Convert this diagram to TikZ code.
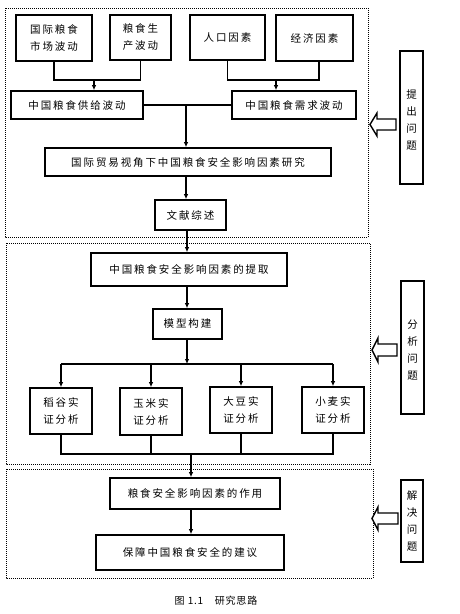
\documentclass[tikz,border=0pt]{standalone}
\usepackage{fontspec}
\newfontfamily\cjk[LetterSpace=18]{Noto Sans CJK SC}
\newfontfamily\cjkcap[LetterSpace=8]{Noto Sans CJK SC}
\usetikzlibrary{arrows.meta,calc}
\begin{document}
\begin{tikzpicture}[x=1pt,y=-1pt,
  box/.style={draw, line width=1.7pt, inner sep=0pt, align=center,
    font=\cjk\fontsize{10.5pt}{17pt}\selectfont},
  sidebox/.style={box, text depth=0pt},
  conn/.style={line width=1.1pt},
  arr/.style={conn, -{Latex[length=5pt,width=4.5pt]}},
  frame/.style={densely dotted, line width=1pt},
  hollow/.style={draw, line width=1.4pt, line join=miter, fill=white},
]
\useasboundingbox (0,0) rectangle (459,614);

% dotted frames
\draw[frame] (5,8) rectangle (368,237);
\draw[frame] (6,243) rectangle (370,464);
\draw[frame] (6,469) rectangle (373,578);

% stage 1
\node[box, minimum width=76pt, minimum height=46pt] (b1) at (54,38) {国际粮食\\市场波动};
\node[box, minimum width=61pt, minimum height=45pt] (b2) at (140.5,37.5) {粮食生\\产波动};
\node[box, minimum width=75pt, minimum height=45pt] (b3) at (227.5,37.5) {人口因素};
\node[box, minimum width=77pt, minimum height=46pt] (b4) at (314.5,38) {经济因素};
\node[box, minimum width=132pt, minimum height=28pt] (supply) at (77,105) {中国粮食供给波动};
\node[box, minimum width=124pt, minimum height=28pt] (demand) at (294,105) {中国粮食需求波动};
\node[box, minimum width=286pt, minimum height=28pt] (research) at (188,162) {国际贸易视角下中国粮食安全影响因素研究};
\node[box, minimum width=71pt, minimum height=30pt] (lit) at (190.5,215) {文献综述};

% stage 2
\node[box, minimum width=196pt, minimum height=33pt] (extract) at (189,269.5) {中国粮食安全影响因素的提取};
\node[box, minimum width=69pt, minimum height=30pt] (model) at (187.5,324) {模型构建};
\node[box, minimum width=62pt, minimum height=46pt] (rice) at (61,411) {稻谷实\\证分析};
\node[box, minimum width=62pt, minimum height=47pt] (corn) at (151,411.5) {玉米实\\证分析};
\node[box, minimum width=62pt, minimum height=46pt] (soy) at (241,410) {大豆实\\证分析};
\node[box, minimum width=62pt, minimum height=46pt] (wheat) at (333,410) {小麦实\\证分析};

% stage 3
\node[box, minimum width=170pt, minimum height=31pt] (role) at (195,493.5) {粮食安全影响因素的作用};
\node[box, minimum width=188pt, minimum height=35pt] (suggest) at (190,552.5) {保障中国粮食安全的建议};

% side boxes
\node[box, minimum width=23pt, minimum height=133pt] (side1) at (411.5,117.5) {\\[-4pt]提\\出\\问\\题};
\node[box, minimum width=23pt, minimum height=133pt] (side2) at (412.5,347.5) {\\[-4pt]分\\析\\问\\题};
\node[box, minimum width=22pt, minimum height=82pt] (side3) at (412,521) {解\\决\\问\\题};

% junctions
\coordinate (j1) at (94,80);
\coordinate (j2) at (276,80);
\coordinate (j3) at (186,105);
\coordinate (bus) at (187,364);
\coordinate (bus2) at (191,454);

% connectors stage 1
\draw[conn] (b1.south) |- (j1) -| (b2.south);
\draw[arr] (j1) -- (j1 |- supply.north);
\draw[conn] (b3.south) |- (j2) -| ($(b4.south)+(4.5,0)$);
\draw[arr] (j2) -- (j2 |- demand.north);
\draw[conn] (supply.east) -- (demand.west);
\draw[arr] (j3) -- (j3 |- research.north);
\draw[arr] (research.south -| j3) -- (j3 |- lit.north);
\draw[arr] (lit.south -| bus) -- (bus |- extract.north);

% connectors stage 2
\draw[arr] (extract.south -| bus) -- (bus |- model.north);
\draw[arr] (model.south -| bus) -- (bus);
\draw[conn] (rice.north |- bus) -- (wheat.north |- bus);
\draw[arr] (rice.north |- bus) -- (rice.north);
\draw[arr] (corn.north |- bus) -- (corn.north);
\draw[arr] (soy.north |- bus) -- (soy.north);
\draw[arr] (wheat.north |- bus) -- (wheat.north);
\draw[conn] (rice.south) |- (wheat.south |- bus2) -- (wheat.south);
\draw[conn] (corn.south) -- (corn.south |- bus2);
\draw[conn] (soy.south) -- (soy.south |- bus2);

% connectors stage 3
\draw[arr] (bus2) -- (bus2 |- role.north);
\draw[arr] (role.south -| bus2) -- (bus2 |- suggest.north);

% hollow arrows from side boxes to frames
\coordinate (t1) at (370,124.5);
\coordinate (t2) at (372,350);
\coordinate (t3) at (372,518.5);
\draw[hollow] (t1) -- ++(7,-11.5) -- ++(0,6) -- ++(19,0) -- ++(0,11) -- ++(-19,0) -- ++(0,6) -- cycle;
\draw[hollow] (t2) -- ++(6,-12) -- ++(0,6) -- ++(19,0) -- ++(0,12) -- ++(-19,0) -- ++(0,6) -- cycle;
\draw[hollow] (t3) -- ++(6,-11.5) -- ++(0,6) -- ++(20,0) -- ++(0,11) -- ++(-20,0) -- ++(0,6) -- cycle;

% caption
\node[font=\cjkcap\fontsize{10pt}{12pt}\selectfont] (cap) at (216,601) {图 1.1　研究思路};
\end{tikzpicture}
\end{document}
